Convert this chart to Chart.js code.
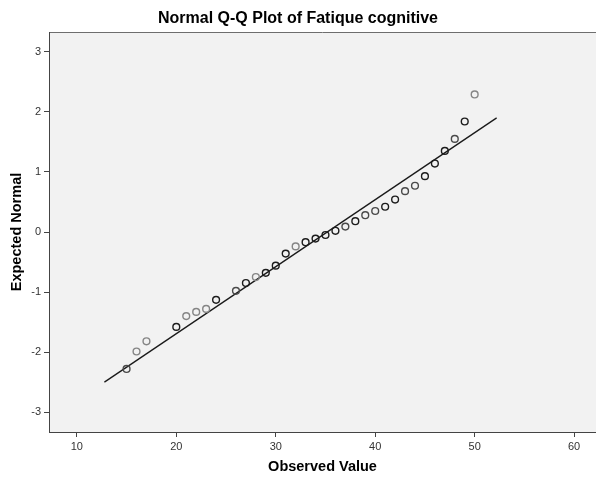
<!DOCTYPE html>
<html><head><meta charset="utf-8">
<script src="https://cdn.jsdelivr.net/npm/chart.js@4/dist/chart.umd.min.js"></script>
<style>html,body{margin:0;padding:0;background:#fff}canvas{display:block}</style>
</head><body>
<canvas id="c" width="596" height="477"></canvas>
<script>
// ---- data ----
const observedValues = [15,16,17,20,21,22,23,24,26,27,28,29,30,31,32,33,34,35,36,37,38,39,40,41,42,43,44,45,46,47,48,49,50];
const expectedNormal = [-2.28,-1.99,-1.82,-1.58,-1.40,-1.33,-1.28,-1.13,-0.98,-0.85,-0.75,-0.68,-0.56,-0.36,-0.24,-0.17,-0.11,-0.05,0.02,0.09,0.18,0.28,0.35,0.42,0.54,0.68,0.77,0.93,1.14,1.35,1.55,1.84,2.29];
const refLineX = [12.77, 52.21];
const refLineY = [-2.50, 1.90];
const xTickValues = [10,20,30,40,50,60];
const yTickValues = [-3,-2,-1,0,1,2,3];

// ---- styles ----
const shadeMap = {d:'#1c1c1c', m:'#4a4a4a', g:'#858585'};
const pointShade = ['m','g','g','d','g','g','g','d','m','d','g','d','d','d','g','d','d','d','d','m','d','m','m','d','d','m','m','d','d','d','m','d','g'];
const FONT = 'Liberation Sans, Arial, sans-serif';

const qqPoints = observedValues.map((v,i)=>({x:v, y:expectedNormal[i]}));
const linePoints = refLineX.map((v,i)=>({x:v, y:refLineY[i]}));

const bgPlugin = {
  id:'bg',
  beforeDraw(chart){
    const {ctx, chartArea:a} = chart;
    ctx.save();
    ctx.fillStyle='#f2f2f2';
    ctx.fillRect(a.left,a.top,a.right-a.left,a.bottom-a.top);
    ctx.strokeStyle='#6e6e6e';
    ctx.lineWidth=1;
    ctx.beginPath();
    ctx.moveTo(a.left, Math.round(a.top)+0.5);
    ctx.lineTo(a.right, Math.round(a.top)+0.5);
    ctx.stroke();
    ctx.restore();
  }
};

new Chart(document.getElementById('c'), {
  type:'scatter',
  data:{
    datasets:[
      {
        type:'line',
        data:linePoints,
        borderColor:'#1a1a1a',
        borderWidth:1.3,
        pointRadius:0,
        fill:false,
        tension:0,
        order:2
      },
      {
        data:qqPoints,
        pointRadius:3.4,
        pointBorderWidth:1.4,
        pointBackgroundColor:'rgba(0,0,0,0)',
        pointBorderColor:pointShade.map(s=>shadeMap[s]),
        order:1
      }
    ]
  },
  options:{
    responsive:false,
    animation:false,
    devicePixelRatio:1,
    layout:{padding:0, autoPadding:false},
    plugins:{
      legend:{display:false},
      tooltip:{enabled:false},
      title:{
        display:true,
        text:'Normal Q-Q Plot of Fatique cognitive',
        color:'#000',
        font:{family:FONT, size:16, weight:'bold'},
        padding:{top:9.4, bottom:3.4}
      }
    },
    scales:{
      x:{
        type:'linear',
        min:7.2, max:62.2,
        afterBuildTicks:s=>{ s.ticks = xTickValues.map(v=>({value:v})); },
        afterFit:s=>{ s.height = 45; },
        ticks:{font:{family:FONT, size:11}, color:'#333', padding:3, autoSkip:false, maxRotation:0},
        grid:{drawOnChartArea:false, tickLength:5, color:'#444'},
        border:{color:'#444', width:1},
        title:{display:true, text:'Observed Value', color:'#000', font:{family:FONT, size:14.5, weight:'bold'}, padding:{top:1.3, bottom:1.3}}
      },
      y:{
        type:'linear',
        min:-3.33, max:3.33,
        afterBuildTicks:s=>{ s.ticks = yTickValues.map(v=>({value:v})); },
        afterFit:s=>{ s.width = 49; },
        ticks:{font:{family:FONT, size:11}, color:'#333', padding:3, autoSkip:false},
        grid:{drawOnChartArea:false, tickLength:5, color:'#444'},
        border:{color:'#444', width:1},
        title:{display:true, text:'Expected Normal', color:'#000', font:{family:FONT, size:14.5, weight:'bold'}, padding:{top:8.3, bottom:8.3}}
      }
    }
  },
  plugins:[bgPlugin]
});
</script>
</body></html>
